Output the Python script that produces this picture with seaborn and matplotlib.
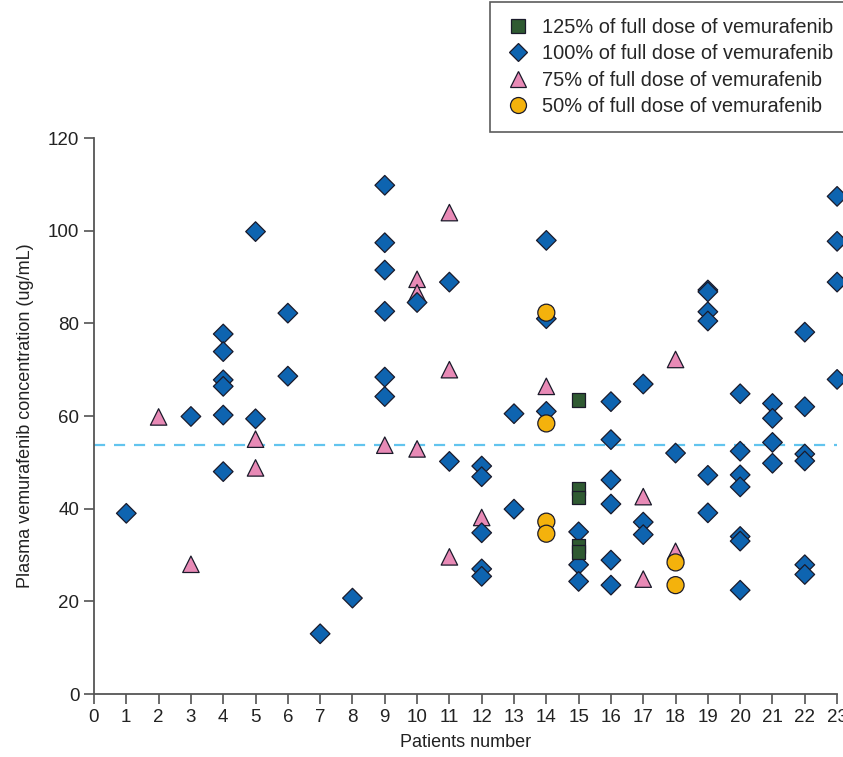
import pandas as pd
import matplotlib.pyplot as plt
from matplotlib.lines import Line2D
import seaborn as sns

# Plasma concentrations (ug/mL) per patient, one list per dose level
dose_125_patients = [15, 15, 15, 15, 15]
dose_125_values = [63.5, 44.4, 42.4, 31.9, 30.6]

dose_100_patients = [1, 3, 4, 4, 4, 4, 4, 4, 5, 5, 6, 6, 7, 8,
                     9, 9, 9, 9, 9, 9, 10, 11, 11,
                     12, 12, 12, 12, 12, 13, 13, 14, 14, 14,
                     15, 15, 15, 16, 16, 16, 16, 16, 16, 17, 17, 17,
                     18, 19, 19, 19, 19, 19, 19,
                     20, 20, 20, 20, 20, 20, 20, 21, 21, 21, 21,
                     22, 22, 22, 22, 22, 22, 23, 23, 23, 23]
dose_100_values = [39.0, 59.9, 77.7, 73.9, 67.8, 66.4, 60.2, 48.0, 99.8, 59.4, 82.2, 68.6, 13.0, 20.7,
                   109.8, 97.4, 91.5, 82.6, 68.4, 64.2, 84.5, 88.9, 50.2,
                   49.2, 46.9, 34.8, 27.0, 25.4, 60.5, 39.9, 97.9, 81.0, 61.0,
                   35.0, 27.9, 24.3, 63.1, 54.9, 46.2, 41.0, 28.9, 23.5, 66.9, 37.1, 34.4,
                   52.0, 87.2, 86.8, 82.5, 80.5, 47.2, 39.1,
                   64.8, 52.4, 47.3, 44.7, 34.0, 33.0, 22.4, 62.7, 59.5, 54.3, 49.8,
                   78.1, 62.0, 51.8, 50.3, 27.9, 25.8, 107.4, 97.7, 88.9, 67.9]

dose_75_patients = [2, 3, 5, 5, 9, 10, 10, 10, 11, 11, 11, 12, 14, 17, 17, 18, 18]
dose_75_values = [59.8, 28.0, 55.0, 48.8, 53.7, 89.5, 86.6, 52.9, 103.9, 70.0, 29.6, 38.1, 66.4,
                  42.6, 24.8, 72.2, 30.8]

dose_50_patients = [14, 14, 14, 14, 18, 18]
dose_50_values = [82.3, 58.4, 37.2, 34.6, 28.4, 23.5]

mean_concentration = 53.8

labels = ["125% of full dose of vemurafenib", "100% of full dose of vemurafenib",
          "75% of full dose of vemurafenib", "50% of full dose of vemurafenib"]
colors = ["#2f5a32", "#0e64b0", "#e88ab6", "#f4b20c"]
markers = ["s", "D", "^", "o"]
sizes = [95, 100, 140, 150]

# long-form table; draw order: triangles, diamonds, squares, circles
groups = [(labels[2], dose_75_patients, dose_75_values),
          (labels[1], dose_100_patients, dose_100_values),
          (labels[0], dose_125_patients, dose_125_values),
          (labels[3], dose_50_patients, dose_50_values)]
df = pd.concat([pd.DataFrame({"patient": p, "conc": v, "dose": name}) for name, p, v in groups],
               ignore_index=True)

sns.set_style("ticks")
plt.rcParams["font.family"] = ["Liberation Sans", "DejaVu Sans"]

fig = plt.figure(figsize=(8.43, 7.57), dpi=100)
ax = fig.add_axes([0.1115, 0.0832, 0.8815, 0.7345])

sns.scatterplot(data=df, x="patient", y="conc", hue="dose", style="dose", size="dose",
                palette=dict(zip(labels, colors)), markers=dict(zip(labels, markers)),
                sizes=dict(zip(labels, sizes)), edgecolor="#1a1a2a", linewidth=0.9,
                legend=False, ax=ax, clip_on=False, zorder=3)

ax.plot([0, 23], [mean_concentration, mean_concentration], linestyle=(0, (5, 4)),
        color="#62c4ee", linewidth=1.6, zorder=2)

ax.set_xlim(0, 23)
ax.set_ylim(0, 120)
ax.set_xticks(range(0, 24))
ax.set_yticks(range(0, 121, 20))
ax.tick_params(axis="both", labelsize=13.5, color="#444444", length=7, width=1.1, labelcolor="#222222")
for side in ["left", "bottom"]:
    ax.spines[side].set_color("#555555")
    ax.spines[side].set_linewidth(1.3)
sns.despine(ax=ax)

ax.set_xlabel("Patients number", fontsize=13, color="#222222", labelpad=6)
ax.set_ylabel("Plasma vemurafenib concentration (ug/mL)", fontsize=13, color="#222222", labelpad=10)

handles = [Line2D([], [], linestyle="none", marker=m, color=c, markeredgecolor="#1a1a2a",
                  markersize=ms, markeredgewidth=0.9)
           for m, c, ms in zip(markers, colors, [10.5, 9, 11, 11.5])]
leg = fig.legend(handles, labels, loc="upper left", bbox_to_anchor=(0.581, 0.998),
                 fontsize=14.4, frameon=True, fancybox=False, borderpad=0.8,
                 handletextpad=0.6, labelspacing=0.38, handlelength=1.2, borderaxespad=0)
leg.get_frame().set_edgecolor("#333333")
leg.get_frame().set_linewidth(1.2)

plt.savefig("out.png", dpi=100)
